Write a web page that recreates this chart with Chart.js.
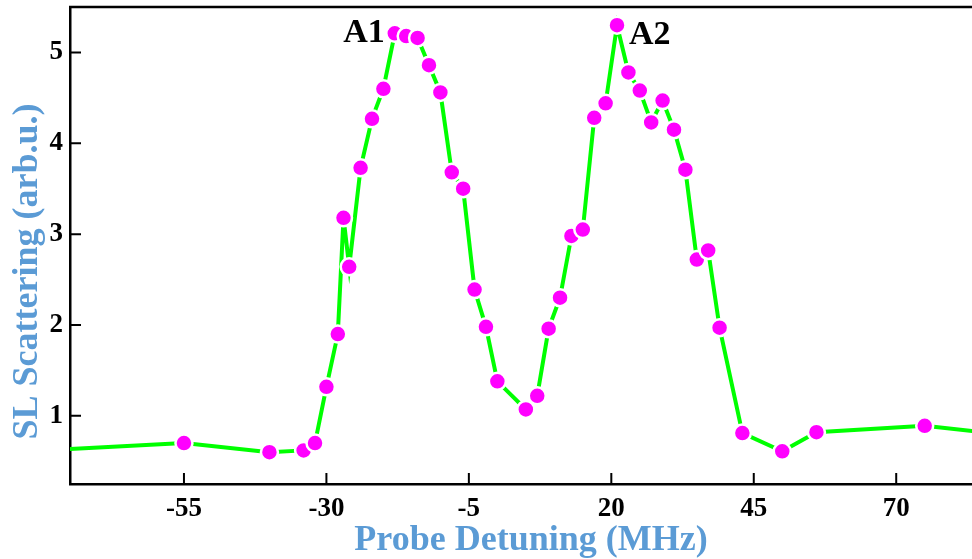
<!DOCTYPE html>
<html><head><meta charset="utf-8">
<script src="https://cdn.jsdelivr.net/npm/chart.js@4"></script>
<style>html,body{margin:0;padding:0;background:#fff;} #wrap{width:972px;height:559px;position:relative;}</style>
</head><body><div id="wrap"><canvas id="c"></canvas></div>
<script>
// Probe detuning (MHz)
const detuning = [-80, -55, -40, -34, -32, -30, -28, -27, -26, -24, -22, -20, -18, -16, -14, -12, -10, -8, -6, -4, -2, 0,
  5, 7, 9, 11, 13, 15, 17, 19, 21, 23, 25, 27, 29, 31, 33, 35, 37, 39, 43, 50, 56, 75, 88];
// SL scattering (arb.u.)
const scattering = [0.62, 0.70, 0.60, 0.62, 0.70, 1.32, 1.90, 3.18, 2.64, 3.73, 4.27, 4.60, 5.21, 5.18, 5.16, 4.86, 4.56, 3.68, 3.50, 2.39, 1.98, 1.38,
  1.07, 1.22, 1.96, 2.30, 2.98, 3.05, 4.28, 4.44, 5.30, 4.78, 4.58, 4.23, 4.47, 4.15, 3.71, 2.72, 2.82, 1.97, 0.81, 0.61, 0.82, 0.89, 0.80];
const xTicks = [-55, -30, -5, 20, 45, 70];
const yTicks = [1, 2, 3, 4, 5];
const peakLabels = ['A1', 'A2'];
const peakIndex = [12, 30];
const xTitle = 'Probe Detuning (MHz)';
const yTitle = 'SL Scattering (arb.u.)';

const SERIF = '"Liberation Serif", "Times New Roman", serif';
const TITLE_COLOR = '#5B9BD5';

const points = detuning.map((x, i) => ({x, y: scattering[i]}));

function zeroPad(s) { s.paddingTop = 0; s.paddingBottom = 0; s.paddingLeft = 0; s.paddingRight = 0; }

const decor = {
  id: 'decor',
  beforeDatasetsDraw(chart) {
    const {ctx, chartArea: a, scales: {x, y}} = chart;
    ctx.save();
    ctx.strokeStyle = '#000';
    ctx.lineWidth = 2.5;
    ctx.beginPath();
    ctx.moveTo(a.left - 1, a.top);
    ctx.lineTo(a.right, a.top);
    ctx.stroke();
    ctx.lineWidth = 2;
    ctx.beginPath();
    xTicks.forEach(v => { const p = x.getPixelForValue(v); ctx.moveTo(p, a.bottom); ctx.lineTo(p, a.bottom - 11); });
    yTicks.forEach(v => { const p = y.getPixelForValue(v); ctx.moveTo(a.left, p); ctx.lineTo(a.left + 11, p); });
    ctx.stroke();
    ctx.restore();
  },
  afterDatasetsDraw(chart) {
    const {ctx, chartArea: a, scales: {x, y}} = chart;
    ctx.save();
    ctx.fillStyle = '#000';
    ctx.font = 'bold 34px ' + SERIF;
    ctx.textBaseline = 'alphabetic';
    peakLabels.forEach((t, k) => {
      const i = peakIndex[k];
      const px = x.getPixelForValue(detuning[i]);
      const py = y.getPixelForValue(scattering[i]);
      if (k === 0) { ctx.textAlign = 'right'; ctx.fillText(t, px - 10, py + 9); }
      else { ctx.textAlign = 'left'; ctx.fillText(t, px + 12, py + 19); }
    });
    ctx.fillStyle = TITLE_COLOR;
    ctx.font = 'bold 36px ' + SERIF;
    ctx.textAlign = 'center';
    ctx.fillText(xTitle, (a.left + a.right) / 2 + 10, 550);
    ctx.translate(37, (a.top + a.bottom) / 2 + 26);
    ctx.rotate(-Math.PI / 2);
    ctx.fillText(yTitle, 0, 0);
    ctx.restore();
  }
};

new Chart(document.getElementById('c'), {
  type: 'line',
  data: {
    datasets: [{
      data: points,
      borderColor: '#00FF00',
      borderWidth: 4,
      tension: 0,
      pointRadius: 8.5,
      pointHoverRadius: 8.5,
      pointBackgroundColor: '#FF00FF',
      pointBorderColor: '#FFFFFF',
      pointBorderWidth: 2.5,
      fill: false
    }]
  },
  options: {
    responsive: true,
    maintainAspectRatio: false,
    animation: false,
    events: [],
    layout: {autoPadding: false, padding: {top: 7, right: 0, bottom: 0, left: 0}},
    plugins: {legend: {display: false}, tooltip: {enabled: false}},
    scales: {
      x: {
        type: 'linear', position: 'bottom', min: -75, max: 83.3,
        afterBuildTicks: s => { s.ticks = xTicks.map(v => ({value: v})); },
        afterFit: s => { s.height = 75; zeroPad(s); },
        ticks: {color: '#000', font: {family: SERIF, size: 27, weight: 'bold'}, padding: 9, maxRotation: 0, autoSkip: false},
        grid: {display: false, drawTicks: false},
        border: {display: true, color: '#000', width: 2.5}
      },
      y: {
        type: 'linear', position: 'left', min: 0.25, max: 5.5,
        afterBuildTicks: s => { s.ticks = yTicks.map(v => ({value: v})); },
        afterFit: s => { s.width = 70; zeroPad(s); },
        ticks: {color: '#000', font: {family: SERIF, size: 27, weight: 'bold'}, padding: 7, autoSkip: false},
        grid: {display: false, drawTicks: false},
        border: {display: true, color: '#000', width: 2.5}
      }
    }
  },
  plugins: [decor]
});
</script>
</body></html>
